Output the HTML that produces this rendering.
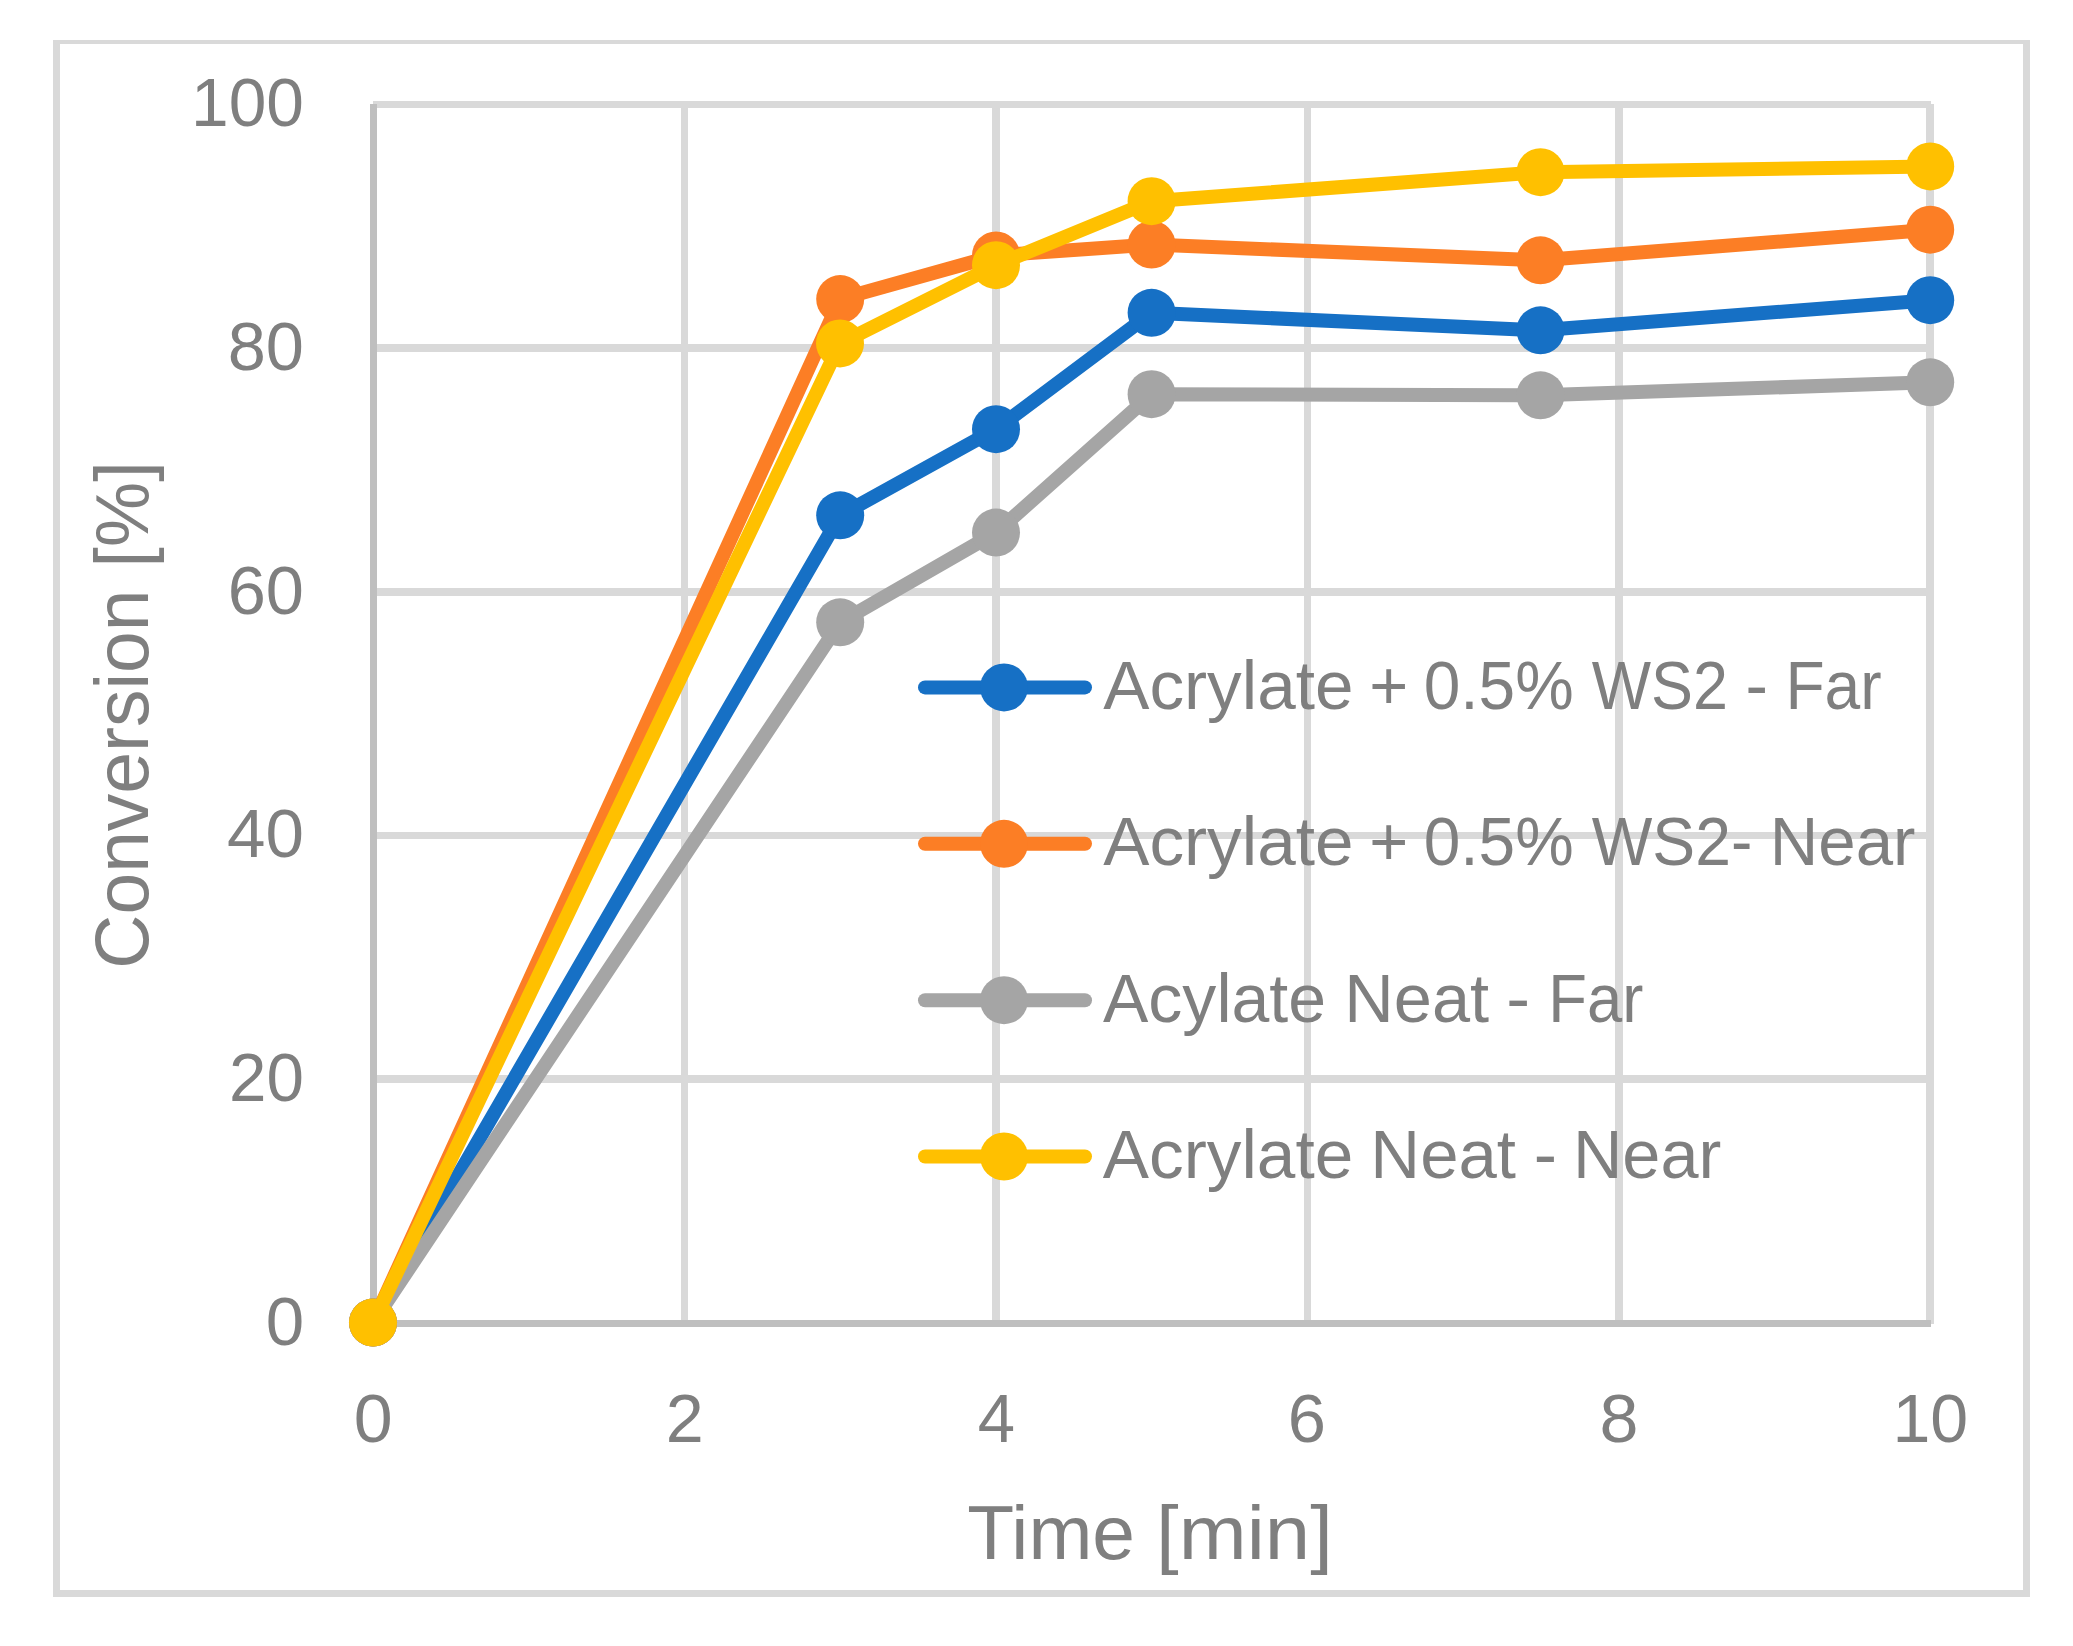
<!DOCTYPE html>
<html lang="en"><head><meta charset="utf-8"><title>Conversion vs Time</title>
<style>html,body{margin:0;padding:0;background:#fff}body{width:2073px;height:1646px;overflow:hidden}svg{display:block}text{font-family:"Liberation Sans",sans-serif;fill:#7F7F7F}</style></head><body>
<svg width="2073" height="1646" viewBox="0 0 2073 1646">
<rect width="2073" height="1646" fill="#fff"/>
<g fill="#D9D9D9" shape-rendering="crispEdges">
<rect x="53" y="40" width="1977" height="4"/>
<rect x="53" y="1590" width="1977" height="7"/>
<rect x="53" y="40" width="7" height="1557"/>
<rect x="2023" y="40" width="7" height="1557"/>
<rect x="373" y="101" width="1558" height="7"/>
<rect x="373" y="344" width="1558" height="8"/>
<rect x="373" y="588" width="1558" height="8"/>
<rect x="373" y="832" width="1558" height="7"/>
<rect x="373" y="1075" width="1558" height="8"/>
<rect x="681" y="104" width="7" height="1220"/>
<rect x="992" y="104" width="8" height="1220"/>
<rect x="1304" y="104" width="7" height="1220"/>
<rect x="1615" y="104" width="8" height="1220"/>
<rect x="1926" y="104" width="8" height="1220"/>
</g>
<g fill="#BFBFBF" shape-rendering="crispEdges">
<rect x="370" y="104" width="7" height="1223"/>
<rect x="370" y="1320" width="1561" height="7"/>
</g>
<path d="M373.0,1322.6 L840.2,515.3 L996.0,429.2 L1151.6,312.8 L1540.5,330.3 L1930.2,300.2" fill="none" stroke="#1670C5" stroke-width="14" stroke-linejoin="round" stroke-linecap="round"/>
<circle cx="373.0" cy="1322.6" r="24" fill="#1670C5"/>
<circle cx="840.2" cy="515.3" r="24" fill="#1670C5"/>
<circle cx="996.0" cy="429.2" r="24" fill="#1670C5"/>
<circle cx="1151.6" cy="312.8" r="24" fill="#1670C5"/>
<circle cx="1540.5" cy="330.3" r="24" fill="#1670C5"/>
<circle cx="1930.2" cy="300.2" r="24" fill="#1670C5"/>
<path d="M373.0,1322.6 L840.2,299.1 L996.0,255.4 L1151.6,244.6 L1540.5,260.3 L1930.2,229.7" fill="none" stroke="#FC7E25" stroke-width="14" stroke-linejoin="round" stroke-linecap="round"/>
<circle cx="373.0" cy="1322.6" r="24" fill="#FC7E25"/>
<circle cx="840.2" cy="299.1" r="24" fill="#FC7E25"/>
<circle cx="996.0" cy="255.4" r="24" fill="#FC7E25"/>
<circle cx="1151.6" cy="244.6" r="24" fill="#FC7E25"/>
<circle cx="1540.5" cy="260.3" r="24" fill="#FC7E25"/>
<circle cx="1930.2" cy="229.7" r="24" fill="#FC7E25"/>
<path d="M373.0,1322.6 L840.2,622.3 L996.0,532.6 L1151.6,394.2 L1540.5,395.3 L1930.2,382.3" fill="none" stroke="#A5A5A5" stroke-width="14" stroke-linejoin="round" stroke-linecap="round"/>
<circle cx="373.0" cy="1322.6" r="24" fill="#A5A5A5"/>
<circle cx="840.2" cy="622.3" r="24" fill="#A5A5A5"/>
<circle cx="996.0" cy="532.6" r="24" fill="#A5A5A5"/>
<circle cx="1151.6" cy="394.2" r="24" fill="#A5A5A5"/>
<circle cx="1540.5" cy="395.3" r="24" fill="#A5A5A5"/>
<circle cx="1930.2" cy="382.3" r="24" fill="#A5A5A5"/>
<path d="M373.0,1322.6 L840.0,343.4 L996.0,265.2 L1151.6,201.2 L1540.5,172.2 L1930.2,166.4" fill="none" stroke="#FFC000" stroke-width="14" stroke-linejoin="round" stroke-linecap="round"/>
<circle cx="373.0" cy="1322.6" r="24" fill="#FFC000"/>
<circle cx="840.0" cy="343.4" r="24" fill="#FFC000"/>
<circle cx="996.0" cy="265.2" r="24" fill="#FFC000"/>
<circle cx="1151.6" cy="201.2" r="24" fill="#FFC000"/>
<circle cx="1540.5" cy="172.2" r="24" fill="#FFC000"/>
<circle cx="1930.2" cy="166.4" r="24" fill="#FFC000"/>
<line x1="925" y1="687.4" x2="1085" y2="687.4" stroke="#1670C5" stroke-width="14" stroke-linecap="round"/>
<circle cx="1004" cy="687.4" r="24" fill="#1670C5"/>
<line x1="925" y1="843.8" x2="1085" y2="843.8" stroke="#FC7E25" stroke-width="14" stroke-linecap="round"/>
<circle cx="1004" cy="843.8" r="24" fill="#FC7E25"/>
<line x1="925" y1="1000.2" x2="1085" y2="1000.2" stroke="#A5A5A5" stroke-width="14" stroke-linecap="round"/>
<circle cx="1004" cy="1000.2" r="24" fill="#A5A5A5"/>
<line x1="925" y1="1156.5" x2="1085" y2="1156.5" stroke="#FFC000" stroke-width="14" stroke-linecap="round"/>
<circle cx="1004" cy="1156.5" r="24" fill="#FFC000"/>
<text y="708.7" font-size="68"><tspan x="1103.19" textLength="250.25" lengthAdjust="spacingAndGlyphs">Acrylate</tspan> <tspan x="1369.24" textLength="38.99" lengthAdjust="spacingAndGlyphs">+</tspan> <tspan x="1423.70" textLength="149.97" lengthAdjust="spacingAndGlyphs">0.5%</tspan> <tspan x="1591.78" textLength="136.11" lengthAdjust="spacingAndGlyphs">WS2</tspan> <tspan x="1745.52" textLength="22.45" lengthAdjust="spacingAndGlyphs">-</tspan> <tspan x="1785.42" textLength="96.23" lengthAdjust="spacingAndGlyphs">Far</tspan></text>
<text y="865.1" font-size="68"><tspan x="1103.19" textLength="250.25" lengthAdjust="spacingAndGlyphs">Acrylate</tspan> <tspan x="1369.24" textLength="38.99" lengthAdjust="spacingAndGlyphs">+</tspan> <tspan x="1423.70" textLength="149.97" lengthAdjust="spacingAndGlyphs">0.5%</tspan> <tspan x="1591.78" textLength="160.50" lengthAdjust="spacingAndGlyphs">WS2-</tspan> <tspan x="1769.79" textLength="145.64" lengthAdjust="spacingAndGlyphs">Near</tspan></text>
<text y="1021.5" font-size="68"><tspan x="1103.00" textLength="223.04" lengthAdjust="spacingAndGlyphs">Acylate</tspan> <tspan x="1344.36" textLength="144.70" lengthAdjust="spacingAndGlyphs">Neat</tspan> <tspan x="1506.22" textLength="23.83" lengthAdjust="spacingAndGlyphs">-</tspan> <tspan x="1548.27" textLength="95.01" lengthAdjust="spacingAndGlyphs">Far</tspan></text>
<text y="1177.8" font-size="68"><tspan x="1102.79" textLength="250.46" lengthAdjust="spacingAndGlyphs">Acrylate</tspan> <tspan x="1370.36" textLength="145.65" lengthAdjust="spacingAndGlyphs">Neat</tspan> <tspan x="1533.77" textLength="23.25" lengthAdjust="spacingAndGlyphs">-</tspan> <tspan x="1572.92" textLength="148.33" lengthAdjust="spacingAndGlyphs">Near</tspan></text>
<text y="1345.2" font-size="68"><tspan x="265.74" textLength="38.44" lengthAdjust="spacingAndGlyphs">0</tspan></text>
<text y="1101.0" font-size="68"><tspan x="229.08" textLength="74.92" lengthAdjust="spacingAndGlyphs">20</tspan></text>
<text y="857.3" font-size="68"><tspan x="227.07" textLength="76.89" lengthAdjust="spacingAndGlyphs">40</tspan></text>
<text y="613.7" font-size="68"><tspan x="227.75" textLength="76.25" lengthAdjust="spacingAndGlyphs">60</tspan></text>
<text y="369.9" font-size="68"><tspan x="227.75" textLength="76.25" lengthAdjust="spacingAndGlyphs">80</tspan></text>
<text y="126.2" font-size="68"><tspan x="191.03" textLength="112.93" lengthAdjust="spacingAndGlyphs">100</tspan></text>
<text y="1441.6" font-size="68"><tspan x="353.79" textLength="38.89" lengthAdjust="spacingAndGlyphs">0</tspan></text>
<text y="1441.6" font-size="68"><tspan x="665.75" textLength="37.97" lengthAdjust="spacingAndGlyphs">2</tspan></text>
<text y="1441.6" font-size="68"><tspan x="977.87" textLength="37.32" lengthAdjust="spacingAndGlyphs">4</tspan></text>
<text y="1441.6" font-size="68"><tspan x="1287.81" textLength="38.18" lengthAdjust="spacingAndGlyphs">6</tspan></text>
<text y="1441.6" font-size="68"><tspan x="1599.52" textLength="38.96" lengthAdjust="spacingAndGlyphs">8</tspan></text>
<text y="1441.6" font-size="68"><tspan x="1892.42" textLength="75.82" lengthAdjust="spacingAndGlyphs">10</tspan></text>
<text y="1558.9" font-size="75.5"><tspan x="967.34" textLength="167.75" lengthAdjust="spacingAndGlyphs">Time</tspan> <tspan x="1156.04" textLength="176.79" lengthAdjust="spacingAndGlyphs">[min]</tspan></text>
<text transform="translate(147.8,965.1) rotate(-90)" y="0" font-size="75.5"><tspan x="-3.60" textLength="379.20" lengthAdjust="spacingAndGlyphs">Conversion</tspan> <tspan x="397.73" textLength="105.96" lengthAdjust="spacingAndGlyphs">[%]</tspan></text>
</svg></body></html>
